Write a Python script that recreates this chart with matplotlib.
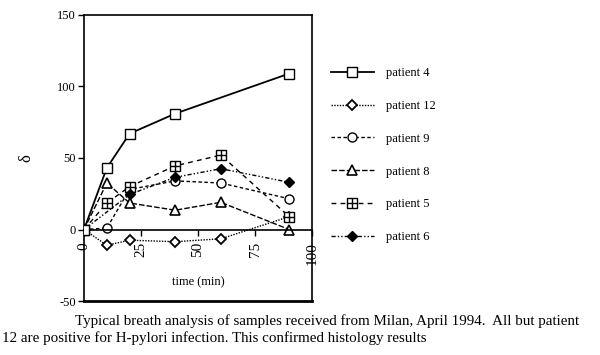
import matplotlib
matplotlib.use("Agg")
import matplotlib.pyplot as plt
from matplotlib.legend_handler import HandlerTuple

plt.rcParams['font.family'] = ['Liberation Serif', 'DejaVu Serif']
plt.rcParams['axes.unicode_minus'] = False

# data
t4 = [0, 10, 20, 40, 90]
p4 = [0, 43, 67, 81, 109]
t12 = [0, 10, 20, 40, 60, 90]
p12 = [0, -11, -7.5, -8.5, -6.5, 9]
t9 = [0, 10, 20, 40, 60, 90]
p9 = [0, 1, 28, 34, 32.5, 21.5]
t8 = [0, 10, 20, 40, 60, 90]
p8 = [0, 32.5, 18.5, 13.5, 19, 0]
t5 = [0, 10, 20, 40, 60, 90]
p5 = [0, 18.5, 30, 44.5, 52, 9]
t6 = [0, 20, 40, 60, 90]
p6 = [0, 24.5, 36.5, 42.5, 33]
labels = ['patient 4', 'patient 12', 'patient 9', 'patient 8', 'patient 5', 'patient 6']
xticks = [0, 25, 50, 75, 100]
yticks = [-50, 0, 50, 100, 150]

fig = plt.figure(figsize=(6.0, 3.55), dpi=100)
ax = fig.add_axes([0.14, 0.152, 0.38, 0.806])

ms = 6.5
lw = 1.0
h4, = ax.plot(t4, p4, '-', color='k', lw=1.3, marker='s', ms=ms, mfc='white', mec='k', zorder=5)
h12, = ax.plot(t12, p12, linestyle=(0, (1, 1)), color='k', lw=lw, marker='D', ms=5, mfc='white', mec='k', mew=1.3)
h9, = ax.plot(t9, p9, linestyle=(0, (2.5, 1.8)), color='k', lw=lw, marker='o', ms=ms, mfc='white', mec='k')
h8, = ax.plot(t8, p8, linestyle=(0, (4, 1.5)), color='k', lw=lw, marker='^', ms=ms, mfc='white', mec='k', mew=1.2)
h5a, = ax.plot(t5, p5, linestyle=(0, (3.5, 3)), color='k', lw=lw, marker='s', ms=ms, mfc='white', mec='k')
h5b, = ax.plot(t5, p5, linestyle='none', marker='+', ms=ms, mec='k', mew=1.0)
h6, = ax.plot(t6, p6, linestyle=(0, (3, 1.5, 1, 1.5, 1, 1.5)), color='k', lw=lw, marker='D', ms=5.5, mfc='k', mec='k')

ax.set_xlim(0, 100)
ax.set_ylim(-50, 150)
ax.spines['bottom'].set_position(('data', 0))
for s in ax.spines.values():
    s.set_linewidth(1.2)
ax.plot([0, 1], [0, 0], transform=ax.transAxes, color='k', lw=2.0, clip_on=False)
ax.set_xticks(xticks)
ax.set_yticks(yticks)
ax.tick_params(axis='x', direction='out', length=4, width=1, labelsize=11, labelrotation=90, pad=5)
ax.tick_params(axis='y', direction='out', length=4, width=1, labelsize=9, pad=2)
ax.set_xlabel('time (min)', fontsize=9, va='center')
ax.xaxis.set_label_coords(0.5, 0.066)
ax.set_ylabel('δ', fontsize=12, labelpad=16)

fig.legend([h4, h12, h9, h8, (h5a, h5b), h6], labels,
           loc='upper left', bbox_to_anchor=(0.533, 0.842), frameon=False,
           fontsize=9, handlelength=3.4, handletextpad=1.0, labelspacing=1.66,
           handler_map={tuple: HandlerTuple(ndivide=1, pad=0)})

fig.text(0.125, 0.085, 'Typical breath analysis of samples received from Milan, April 1994.  All but patient',
         fontsize=10.8, ha='left', va='baseline')
fig.text(0.003, 0.038, '12 are positive for H-pylori infection. This confirmed histology results',
         fontsize=10.8, ha='left', va='baseline')

fig.savefig('out.png', dpi=100)
